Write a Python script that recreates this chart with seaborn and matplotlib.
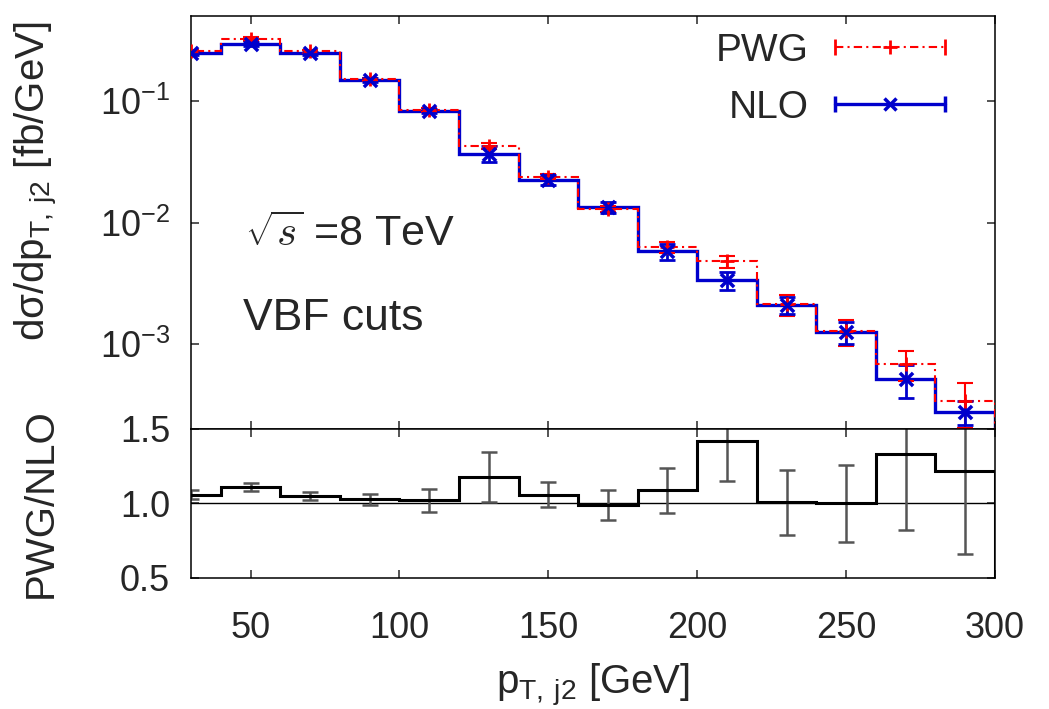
import math
import matplotlib
matplotlib.use("Agg")
import matplotlib.pyplot as plt
import seaborn as sns
from matplotlib.lines import Line2D
from matplotlib.legend_handler import HandlerLine2D
from matplotlib.ticker import FixedLocator, FuncFormatter, NullLocator

# Bins in pT of the second jet (GeV)
pt_edges = [20, 40, 60, 80, 100, 120, 140, 160, 180, 200, 220, 240, 260, 280, 300]
pt_centers = [30, 50, 70, 90, 110, 130, 150, 170, 190, 210, 230, 250, 270, 290]

# d sigma / d pT [fb/GeV]
pwg = [0.257, 0.322, 0.257, 0.151, 0.0843, 0.0428, 0.0238, 0.0130, 0.00624,
       0.00479, 0.00212, 0.00127, 0.000686, 0.000341]
nlo = [0.247, 0.293, 0.247, 0.149, 0.0828, 0.0368, 0.0225, 0.0133, 0.00578,
       0.00335, 0.00209, 0.00126, 0.000516, 0.000277]

# relative errors
pwg_rel_err = [0.03, 0.04, 0.03, 0.03, 0.03, 0.06, 0.05, 0.06, 0.10, 0.11,
               0.20, 0.24, 0.28, 0.40]
nlo_rel_err = [0.03, 0.04, 0.03, 0.03, 0.03, 0.15, 0.10, 0.10, 0.15, 0.17,
               0.16, 0.20, 0.30, 0.22]

# ratio PWG/NLO and its error
ratio = [1.06, 1.11, 1.05, 1.027, 1.02, 1.18, 1.06, 0.99, 1.087, 1.42,
         1.007, 1.0, 1.33, 1.22]
ratio_err = [0.03, 0.027, 0.03, 0.035, 0.076, 0.168, 0.086, 0.098, 0.153,
             0.27, 0.217, 0.26, 0.51, 0.56]

pwg_err = [v * e for v, e in zip(pwg, pwg_rel_err)]
nlo_err = [v * e for v, e in zip(nlo, nlo_rel_err)]

sns.set_theme(style="ticks")
plt.rcParams["font.family"] = ["Liberation Sans", "DejaVu Sans"]
plt.rcParams["axes.linewidth"] = 1.1

red = "#ff0000"
blue = "#0000cc"
dashdot = (0, (4, 2, 1, 2))

fig = plt.figure(figsize=(10.49, 7.09), dpi=100)
ax1 = fig.add_axes([0.1821, 0.3949, 0.7664, 0.5825])
ax2 = fig.add_axes([0.1821, 0.1848, 0.7664, 0.2102], sharex=ax1)

# --- main panel ---
ax1.set_yscale("log")
ax1.stairs(pwg, pt_edges, color=red, lw=1.5, linestyle=dashdot, zorder=3)
ax1.stairs(nlo, pt_edges, color=blue, lw=2.4, zorder=2)
ax1.errorbar(pt_centers, pwg, yerr=pwg_err, fmt="none", ecolor=red,
             elinewidth=1.5, capsize=6, capthick=1.5, zorder=4)
ax1.errorbar(pt_centers, nlo, yerr=nlo_err, fmt="none", ecolor=blue,
             elinewidth=2, capsize=6, capthick=2, zorder=5)
sns.scatterplot(x=pt_centers, y=pwg, marker="+", color=red, s=110,
                linewidth=2, ax=ax1, zorder=6)
sns.scatterplot(x=pt_centers, y=nlo, marker="x", color=blue, s=90,
                linewidth=2.5, ax=ax1, zorder=7)

ax1.set_xlim(30, 300)
ax1.set_ylim(2e-4, 0.5)
ax1.yaxis.set_major_locator(FixedLocator([1e-3, 1e-2, 1e-1]))
ax1.yaxis.set_minor_locator(NullLocator())
ax1.yaxis.set_major_formatter(FuncFormatter(
    lambda v, p: r"10$^{\mathregular{-%d}}$" % round(-math.log10(v))))
ax1.tick_params(which="both", direction="in", top=True, right=True,
                length=6, width=1.1, labelsize=26, pad=15, labelbottom=False)
ax1.set_ylabel(r"dσ/dp$_{\mathregular{T,}\/\mathregular{j2}}$ [fb/GeV]", fontsize=29)
ax1.yaxis.set_label_coords(-0.163, 0.6)

ax1.text(0.067, 0.443, r"$\sqrt{s}$ =8 TeV", transform=ax1.transAxes,
         fontsize=31, va="baseline", ha="left", math_fontfamily="cm")
ax1.text(0.065, 0.240, "VBF cuts", transform=ax1.transAxes,
         fontsize=32, va="baseline", ha="left")

# legend in gnuplot style: label first, sample with end caps
pwg_line = Line2D([], [], color=red, lw=1.5, linestyle=dashdot,
                  marker="|", markersize=12, markeredgewidth=2)
pwg_mark = Line2D([], [], color=red, ls="none", marker="+",
                  markersize=10, markeredgewidth=2)
nlo_line = Line2D([], [], color=blue, lw=2.4, marker="|",
                  markersize=12, markeredgewidth=2.5)
nlo_mark = Line2D([], [], color=blue, ls="none", marker="x",
                  markersize=9, markeredgewidth=2.5)
hmap = {
    pwg_line: HandlerLine2D(numpoints=2, marker_pad=0),
    nlo_line: HandlerLine2D(numpoints=2, marker_pad=0),
    pwg_mark: HandlerLine2D(numpoints=1),
    nlo_mark: HandlerLine2D(numpoints=1),
}
ax1.legend([(pwg_line, pwg_mark), (nlo_line, nlo_mark)], ["PWG", "NLO"],
           handler_map=hmap, loc="upper right", bbox_to_anchor=(0.938, 0.96),
           frameon=False, markerfirst=False, fontsize=28, handlelength=2.83,
           handletextpad=0.67, labelspacing=0.55, borderpad=0, borderaxespad=0)

# --- ratio panel ---
ax2.axhline(1.0, color="black", lw=1.0, zorder=1)
ax2.stairs(ratio, pt_edges, color="black", lw=2.2, zorder=3)
ax2.errorbar(pt_centers, ratio, yerr=ratio_err, fmt="none", ecolor="#555555",
             elinewidth=1.8, capsize=6, capthick=1.8, zorder=2)
ax2.set_ylim(0.5, 1.5)
ax2.set_xlim(30, 300)
ax2.yaxis.set_major_locator(FixedLocator([0.5, 1.0, 1.5]))
ax2.yaxis.set_minor_locator(NullLocator())
ax2.yaxis.set_major_formatter(FuncFormatter(lambda v, p: "%.1f" % v))
ax2.xaxis.set_major_locator(FixedLocator([50, 100, 150, 200, 250, 300]))
ax2.tick_params(which="both", direction="in", top=True, right=True,
                length=6, width=1.1, labelsize=26, pad=15)
ax2.tick_params(axis="x", pad=24)
ax2.set_ylabel("PWG/NLO", fontsize=29)
ax2.yaxis.set_label_coords(-0.163, 0.5)
ax2.set_xlabel(r"p$_{\mathregular{T,}\/\mathregular{j2}}$ [GeV]", fontsize=29, labelpad=11)

for a in (ax1, ax2):
    for s in a.spines.values():
        s.set_color("black")
        s.set_visible(True)

fig.savefig("out.png", dpi=100)
